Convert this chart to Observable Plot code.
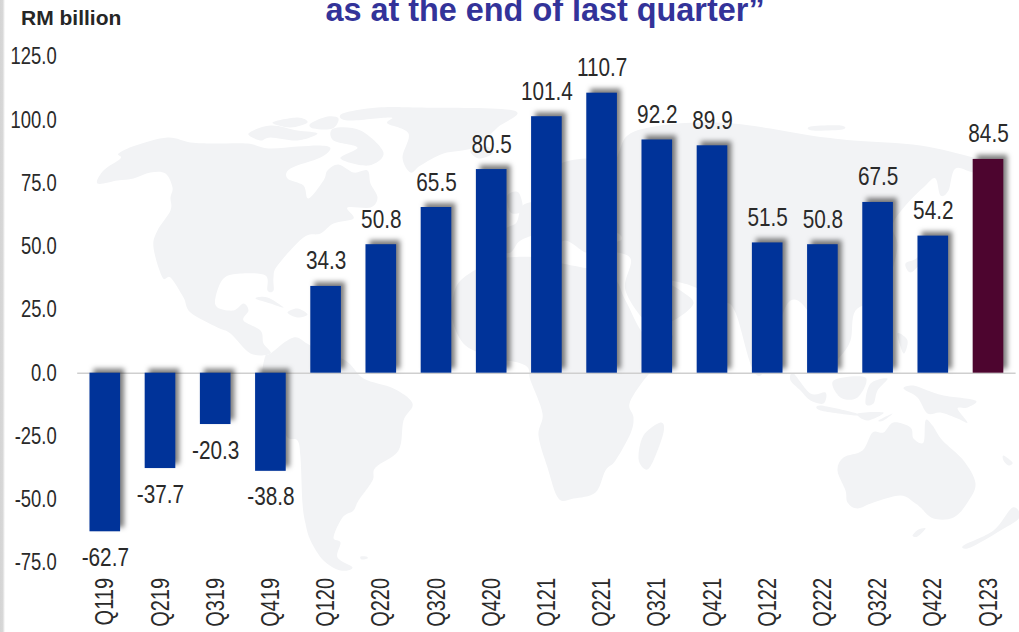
<!DOCTYPE html>
<html>
<head>
<meta charset="utf-8">
<script src="https://cdn.jsdelivr.net/npm/d3@7"></script>
<script src="https://cdn.jsdelivr.net/npm/@observablehq/plot@0.6"></script>
<style>
  html, body { margin: 0; padding: 0; background: #fff; }
  body { position: relative; width: 1019px; height: 632px; overflow: hidden; font-family: "Liberation Sans", Arial, sans-serif; }
  #map, #chart { position: absolute; left: 0; top: 0; }
  #map svg, #chart svg { display: block; background: transparent; }
  #chart g[aria-label="bar"] rect { filter: drop-shadow(4px -4px 2.5px rgba(0,0,0,0.5)); }
  #edge { position: absolute; left: 0; top: 0; width: 5px; height: 632px; background: linear-gradient(to right, #d4d4d4 0, #d8d8d8 55%, #fff 100%); }
  #title { position: absolute; left: 245px; width: 600px; top: -5.4px; line-height: 30px; text-align: center; font-size: 32.4px; font-weight: bold; color: #333399; white-space: nowrap; }
  #unit { position: absolute; left: 21px; top: 6px; line-height: 24px; font-size: 21px; font-weight: bold; color: #262626; white-space: nowrap; }
</style>
</head>
<body>
<div id="map"></div>
<div id="chart"></div>
<div id="edge"></div>
<div id="title">as at the end of last quarter”</div>
<div id="unit">RM billion</div>
<script>
const quarters = ["Q119","Q219","Q319","Q419","Q120","Q220","Q320","Q420","Q121","Q221","Q321","Q421","Q122","Q222","Q322","Q422","Q123"];
const balances = [-62.7,-37.7,-20.3,-38.8,34.3,50.8,65.5,80.5,101.4,110.7,92.2,89.9,51.5,50.8,67.5,54.2,84.5];
const latestQuarter = "Q123";
const yTicks = [125,100,75,50,25,0,-25,-50,-75];

// Background world map outline, in map units.
const northAmerica = [[97,183],[103,170],[120,158],[118,153],[135,145],[167,137],[190,142],[213,143],[247,143],[268,148],[297,146],[320,145],[330,148],[320,157],[290,168],[287,178],[303,185],[308,198],[323,180],[327,170],[338,164],[353,172],[367,170],[370,183],[377,197],[370,207],[347,207],[353,218],[333,223],[320,233],[303,237],[277,265],[273,277],[273,290],[267,290],[265,275],[240,273],[223,278],[215,297],[217,307],[233,310],[243,303],[248,310],[243,320],[260,330],[263,343],[270,353],[250,353],[230,333],[217,327],[190,312],[183,297],[170,277],[162,277],[153,247],[157,230],[170,210],[170,197],[172,187],[165,173],[150,172],[133,178],[117,180]];
const arcticA = [[248,133],[270,125],[297,130],[317,133],[297,140],[270,137],[260,140]];
const arcticB = [[272,122],[297,117],[307,122],[290,127]];
const arcticC = [[310,123],[327,116],[338,118],[332,128],[313,128]];
const baffin = [[333,128],[360,130],[383,152],[368,165],[340,158],[357,147],[333,140]];
const greenland = [[342,113],[377,107],[417,107],[513,110],[497,127],[473,147],[443,153],[420,165],[410,172],[402,157],[408,133],[387,123],[390,117],[347,120]];
const cuba = [[255,298],[267,297],[283,307],[270,303]];
const hispaniola = [[287,312],[297,308],[307,314],[297,317]];
const southAmerica = [[270,353],[293,337],[310,345],[345,360],[363,378],[393,388],[412,403],[403,420],[398,450],[375,467],[372,480],[358,500],[353,510],[342,517],[333,537],[340,542],[337,557],[352,567],[340,570],[323,560],[310,540],[305,523],[302,503],[300,457],[297,440],[287,437],[280,420],[270,395],[262,375],[265,355]];
const falkland = [[360,556],[366,556],[367,558],[361,559]];
const africa = [[452,300],[460,280],[487,263],[507,257],[540,257],[562,263],[610,275],[625,300],[645,335],[672,335],[660,360],[643,380],[629,403],[633,417],[630,433],[615,460],[605,470],[595,492],[573,498],[558,498],[547,467],[538,435],[542,413],[530,380],[525,365],[495,357],[465,345],[452,320]];
const madagascar = [[660,422],[663,432],[652,462],[645,469],[638,458],[643,435]];
const eurasia = [[497,240],[505,228],[516,222],[522,205],[540,198],[536,182],[555,165],[585,158],[612,163],[627,135],[660,125],[700,122],[733,123],[770,128],[810,135],[853,140],[920,145],[973,157],[992,163],[975,172],[955,168],[948,190],[940,195],[935,178],[925,185],[905,205],[892,225],[897,245],[890,275],[880,298],[855,310],[850,340],[838,358],[822,372],[815,345],[807,310],[787,303],[765,368],[752,368],[735,312],[722,300],[690,285],[665,280],[680,290],[693,303],[673,320],[650,325],[625,290],[630,258],[605,250],[590,245],[585,252],[565,240],[550,250],[540,235],[520,240],[510,252],[497,250]];
const britain = [[507,195],[518,192],[522,210],[510,212]];
const iceland = [[470,150],[486,146],[492,153],[478,158]];
const russiaIsland = [[810,126],[840,125],[842,129],[812,130]];
const japan = [[905,263],[917,257],[927,240],[933,247],[920,263],[910,272]];
const philippines = [[897,333],[907,340],[903,353]];
const sumatra = [[793,373],[810,393],[825,392],[823,403],[810,400],[800,390],[790,380]];
const java = [[820,405],[853,412],[855,415],[820,410]];
const borneo = [[833,380],[865,377],[857,397],[840,397]];
const sulawesi = [[865,403],[870,383],[887,378],[877,390],[873,403]];
const timorA = [[857,413],[883,412],[867,420]];
const timorB = [[878,420],[892,413],[883,420]];
const newGuinea = [[903,388],[913,385],[927,390],[943,395],[975,400],[967,407],[957,408],[967,422],[957,418],[940,412],[927,413],[917,397]];
const australia = [[837,470],[843,457],[862,450],[872,432],[883,432],[893,422],[910,427],[913,438],[923,442],[925,420],[932,425],[942,440],[963,460],[975,483],[967,502],[953,517],[933,518],[920,507],[915,503],[900,495],[873,502],[857,508],[847,502],[845,490]];
const tasmania = [[912,535],[918,529],[925,528],[917,536]];
const newZealand = [[963,545],[993,530],[1012,507],[1019,517],[1000,530],[970,547]];
const caledonia = [[1003,455],[1012,462],[1008,465],[1003,460]];
const blackSea = [[590,235],[615,232],[620,240],[595,243]];

const lands = {northAmerica,arcticA,arcticB,arcticC,baffin,greenland,cuba,hispaniola,southAmerica,falkland,africa,madagascar,eurasia,britain,iceland,russiaIsland,japan,philippines,sumatra,java,borneo,sulawesi,timorA,timorB,newGuinea,australia,tasmania,newZealand,caledonia};
const toRows = (obj) => Object.entries(obj).flatMap(([name, pts]) => pts.map(([x, y]) => ({name, x, y})));

const mapPlot = Plot.plot({
  width: 1019, height: 632, margin: 0,
  x: {domain: [0, 1019], range: [0, 1019], axis: null},
  y: {domain: [0, 632], range: [0, 632], axis: null},
  marks: [
    Plot.line(toRows(lands), {x: "x", y: "y", z: "name", fill: "#f2f3f5", stroke: "none", curve: "cardinal-closed"}),
    Plot.line(toRows({blackSea}), {x: "x", y: "y", z: "name", fill: "#fff", stroke: "none", curve: "cardinal-closed"})
  ]
});
document.getElementById("map").append(mapPlot);

const table = quarters.map((q, i) => ({q, v: balances[i], kind: q === latestQuarter ? "latest" : "past"}));
const textColor = "#2a2a2a";

const chart = Plot.plot({
  width: 1019, height: 632,
  marginLeft: 77.2, marginRight: 3.4, marginTop: 56.5, marginBottom: 69.6,
  style: {fontFamily: '"Liberation Sans", Arial, sans-serif', background: "transparent", color: textColor},
  x: {domain: quarters, paddingInner: 0.445, paddingOuter: 0.2225, round: false, label: null},
  y: {domain: [-75, 125], label: null},
  color: {domain: ["past", "latest"], range: ["#003399", "#4d052f"]},
  marks: [
    Plot.ruleY([0], {stroke: "#cfcfcf", strokeWidth: 1.5}),
    Plot.barY(table, {x: "q", y: "v", fill: "kind"}),
    Plot.text(table.filter(d => d.v >= 0), {x: "q", y: "v", text: d => d.v.toFixed(1), dy: -25, fontSize: 25, fill: textColor}),
    Plot.text(table.filter(d => d.v < 0), {x: "q", y: "v", text: d => d.v.toFixed(1), dy: 26, fontSize: 25, fill: textColor}),
    Plot.axisY({ticks: yTicks, tickFormat: d => d.toFixed(1), tickSize: 0, tickPadding: 21, fontSize: 23, label: null, fill: textColor}),
    Plot.axisX({tickRotate: -90, tickSize: 0, tickPadding: 15, fontSize: 25, label: null, fill: textColor})
  ]
});
document.getElementById("chart").append(chart);

// The reference uses a condensed face: narrow every chart label as real text.
const narrowing = {"y-axis tick label": 0.80, "x-axis tick label": 0.80, "text": 0.83};
chart.querySelectorAll("text").forEach(t => {
  const group = t.closest("g[aria-label]");
  const factor = narrowing[group ? group.getAttribute("aria-label") : "text"] || 0.83;
  const len = t.getComputedTextLength();
  if (len > 0) {
    t.setAttribute("textLength", (len * factor).toFixed(1));
    t.setAttribute("lengthAdjust", "spacingAndGlyphs");
  }
});
</script>
</body>
</html>
